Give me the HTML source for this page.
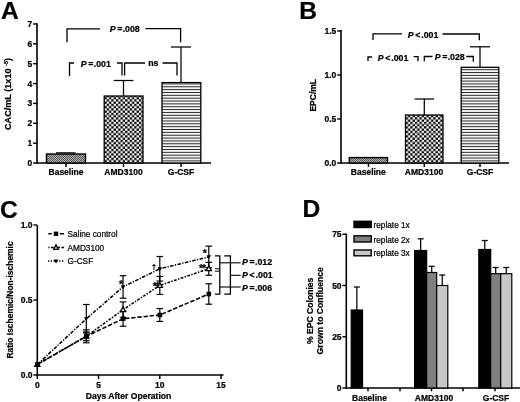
<!DOCTYPE html>
<html><head><meta charset="utf-8"><title>Figure</title>
<style>
html,body{margin:0;padding:0;background:#fff;}
body{width:520px;height:402px;overflow:hidden;font-family:"Liberation Sans",sans-serif;}
svg{display:block;filter:blur(0.3px);}
svg text{font-family:"Liberation Sans",sans-serif;fill:#000;stroke:#000;stroke-width:0.22px;}
</style></head>
<body>
<svg width="520" height="402" viewBox="0 0 520 402">
<defs>
<pattern id="pc" width="4.6" height="4.5" patternUnits="userSpaceOnUse" x="0.9" y="0.3">
<rect width="4.6" height="4.5" fill="#fff"/><rect x="0" y="0" width="2.3" height="2.25" fill="#000"/><rect x="2.3" y="2.25" width="2.3" height="2.25" fill="#000"/>
</pattern>
<pattern id="ph" width="4" height="2.85" patternUnits="userSpaceOnUse" y="0.8">
<rect width="4" height="2.85" fill="#f2f2f2"/><rect x="0" y="0" width="4" height="0.85" fill="#111"/>
</pattern>
<pattern id="pg" width="2" height="2" patternUnits="userSpaceOnUse">
<rect width="2" height="2" fill="#b0b0b0"/><rect width="1" height="1" fill="#555"/><rect x="1" y="1" width="1" height="1" fill="#555"/>
</pattern>
</defs>
<rect width="520" height="402" fill="#fff"/>
<text x="1.0" y="18.8" font-size="24.6" text-anchor="start" font-weight="bold" >A</text>
<line x1="37" y1="23.3" x2="37" y2="163.7" stroke="#000" stroke-width="1.6" />
<line x1="36.2" y1="163" x2="211" y2="163" stroke="#000" stroke-width="1.6" />
<line x1="33.1" y1="163.0" x2="37" y2="163.0" stroke="#000" stroke-width="1.4" />
<text x="32.3" y="166.0" font-size="8.5" text-anchor="end" font-weight="bold" >0</text>
<line x1="33.1" y1="143.14" x2="37" y2="143.14" stroke="#000" stroke-width="1.4" />
<text x="32.3" y="146.14" font-size="8.5" text-anchor="end" font-weight="bold" >1</text>
<line x1="33.1" y1="123.28" x2="37" y2="123.28" stroke="#000" stroke-width="1.4" />
<text x="32.3" y="126.28" font-size="8.5" text-anchor="end" font-weight="bold" >2</text>
<line x1="33.1" y1="103.42" x2="37" y2="103.42" stroke="#000" stroke-width="1.4" />
<text x="32.3" y="106.42" font-size="8.5" text-anchor="end" font-weight="bold" >3</text>
<line x1="33.1" y1="83.56" x2="37" y2="83.56" stroke="#000" stroke-width="1.4" />
<text x="32.3" y="86.56" font-size="8.5" text-anchor="end" font-weight="bold" >4</text>
<line x1="33.1" y1="63.7" x2="37" y2="63.7" stroke="#000" stroke-width="1.4" />
<text x="32.3" y="66.7" font-size="8.5" text-anchor="end" font-weight="bold" >5</text>
<line x1="33.1" y1="43.84" x2="37" y2="43.84" stroke="#000" stroke-width="1.4" />
<text x="32.3" y="46.84" font-size="8.5" text-anchor="end" font-weight="bold" >6</text>
<line x1="33.1" y1="23.980000000000018" x2="37" y2="23.980000000000018" stroke="#000" stroke-width="1.4" />
<text x="32.3" y="26.980000000000018" font-size="8.5" text-anchor="end" font-weight="bold" >7</text>
<line x1="66" y1="163" x2="66" y2="167" stroke="#000" stroke-width="1.5" />
<line x1="123.5" y1="163" x2="123.5" y2="167" stroke="#000" stroke-width="1.5" />
<line x1="181" y1="163" x2="181" y2="167" stroke="#000" stroke-width="1.5" />
<rect x="46.5" y="154" width="39.0" height="9" fill="url(#pg)" stroke="#000" stroke-width="1.4"/>
<rect x="104.2" y="96" width="38.8" height="67" fill="url(#pc)" stroke="#000" stroke-width="1.3"/>
<rect x="162" y="82.6" width="38.80000000000001" height="80.4" fill="url(#ph)" stroke="#000" stroke-width="1.3"/>
<line x1="56" y1="152.9" x2="75.5" y2="152.9" stroke="#000" stroke-width="1.3" />
<line x1="123.5" y1="96" x2="123.5" y2="80.5" stroke="#000" stroke-width="1.25" />
<line x1="113.7" y1="80.5" x2="133.3" y2="80.5" stroke="#000" stroke-width="1.25" />
<line x1="181" y1="82.6" x2="181" y2="47" stroke="#000" stroke-width="1.25" />
<line x1="171" y1="47" x2="191" y2="47" stroke="#000" stroke-width="1.25" />
<polyline points="67,42.3 67,28.8 100,28.8" fill="none" stroke="#000" stroke-width="1.3" />
<text x="124.7" y="32.4" font-size="8.8" text-anchor="middle" font-weight="bold"><tspan font-style="italic">P</tspan><tspan dx="1.7">=</tspan><tspan dx="0.3">.008</tspan></text>
<polyline points="145.5,28.7 180.6,28.7 180.6,42.3" fill="none" stroke="#000" stroke-width="1.3" />
<polyline points="69.5,76 69.5,63 74,63" fill="none" stroke="#000" stroke-width="1.3" />
<text x="95.8" y="66.7" font-size="8.8" text-anchor="middle" font-weight="bold"><tspan font-style="italic">P</tspan><tspan dx="1.7">=</tspan><tspan dx="0.3">.001</tspan></text>
<polyline points="117,63 122,63 122,75.5" fill="none" stroke="#000" stroke-width="1.3" />
<polyline points="124.6,75.5 124.6,63 145,63" fill="none" stroke="#000" stroke-width="1.3" />
<text x="153.3" y="66" font-size="8.8" text-anchor="middle" font-weight="bold" >ns</text>
<polyline points="162.5,63 177,63 177,75.5" fill="none" stroke="#000" stroke-width="1.3" />
<text x="66" y="175" font-size="8.5" text-anchor="middle" font-weight="bold" >Baseline</text>
<text x="123.5" y="175" font-size="8.5" text-anchor="middle" font-weight="bold" >AMD3100</text>
<text x="181" y="175" font-size="8.5" text-anchor="middle" font-weight="bold" >G-CSF</text>
<text transform="translate(10.8,94) rotate(-90)" font-size="9.1" font-weight="bold" text-anchor="middle">CAC/mL (1x10 <tspan font-size="5.5" dy="-3">-5</tspan><tspan dy="3">)</tspan></text>
<text x="299.3" y="18.8" font-size="24.6" text-anchor="start" font-weight="bold" >B</text>
<line x1="341" y1="30" x2="341" y2="163.7" stroke="#000" stroke-width="1.6" />
<line x1="340.2" y1="163" x2="509" y2="163" stroke="#000" stroke-width="1.6" />
<line x1="337.1" y1="163" x2="341" y2="163" stroke="#000" stroke-width="1.4" />
<text x="336.3" y="166.0" font-size="8.5" text-anchor="end" font-weight="bold" >0.0</text>
<line x1="337.1" y1="119" x2="341" y2="119" stroke="#000" stroke-width="1.4" />
<text x="336.3" y="122.0" font-size="8.5" text-anchor="end" font-weight="bold" >0.5</text>
<line x1="337.1" y1="75" x2="341" y2="75" stroke="#000" stroke-width="1.4" />
<text x="336.3" y="78.0" font-size="8.5" text-anchor="end" font-weight="bold" >1.0</text>
<line x1="337.1" y1="31" x2="341" y2="31" stroke="#000" stroke-width="1.4" />
<text x="336.3" y="34.0" font-size="8.5" text-anchor="end" font-weight="bold" >1.5</text>
<line x1="368.5" y1="163" x2="368.5" y2="167" stroke="#000" stroke-width="1.5" />
<line x1="424.3" y1="163" x2="424.3" y2="167" stroke="#000" stroke-width="1.5" />
<line x1="480" y1="163" x2="480" y2="167" stroke="#000" stroke-width="1.5" />
<rect x="349.3" y="157.6" width="38.19999999999999" height="5.400000000000006" fill="url(#pg)" stroke="#000" stroke-width="1.4"/>
<rect x="405.5" y="115" width="37.5" height="48" fill="url(#pc)" stroke="#000" stroke-width="1.3"/>
<rect x="461.2" y="67.3" width="37.60000000000002" height="95.7" fill="url(#ph)" stroke="#000" stroke-width="1.3"/>
<line x1="424.3" y1="115" x2="424.3" y2="99" stroke="#000" stroke-width="1.25" />
<line x1="414.6" y1="99" x2="434.0" y2="99" stroke="#000" stroke-width="1.25" />
<line x1="480" y1="67.3" x2="480" y2="46.8" stroke="#000" stroke-width="1.25" />
<line x1="470" y1="46.8" x2="490" y2="46.8" stroke="#000" stroke-width="1.25" />
<polyline points="373,40 373,33.9 402,33.9" fill="none" stroke="#000" stroke-width="1.3" />
<text x="423" y="37.6" font-size="8.8" text-anchor="middle" font-weight="bold"><tspan font-style="italic">P</tspan><tspan dx="1.7">&lt;</tspan><tspan dx="0.9">.001</tspan></text>
<polyline points="442.5,34 479.3,34 479.3,40.3" fill="none" stroke="#000" stroke-width="1.3" />
<polyline points="368,61 368,57 372,57" fill="none" stroke="#000" stroke-width="1.3" />
<text x="393" y="60.5" font-size="8.8" text-anchor="middle" font-weight="bold"><tspan font-style="italic">P</tspan><tspan dx="1.7">&lt;</tspan><tspan dx="0.9">.001</tspan></text>
<polyline points="413.7,56.7 418,56.7 418,61.3" fill="none" stroke="#000" stroke-width="1.3" />
<polyline points="424.3,61.3 424.3,56.5 432.5,56.5" fill="none" stroke="#000" stroke-width="1.3" />
<text x="449.7" y="59.5" font-size="8.8" text-anchor="middle" font-weight="bold"><tspan font-style="italic">P</tspan><tspan dx="1.7">=</tspan><tspan dx="0.3">.028</tspan></text>
<polyline points="466.2,56.5 473.3,56.5 473.3,61.8" fill="none" stroke="#000" stroke-width="1.3" />
<text x="368.3" y="175" font-size="8.5" text-anchor="middle" font-weight="bold" >Baseline</text>
<text x="424" y="175" font-size="8.5" text-anchor="middle" font-weight="bold" >AMD3100</text>
<text x="480" y="175" font-size="8.5" text-anchor="middle" font-weight="bold" >G-CSF</text>
<text transform="translate(316,95.3) rotate(-90)" font-size="8.5" font-weight="bold" text-anchor="middle">EPC/mL</text>
<text x="0.0" y="217.7" font-size="24.6" text-anchor="start" font-weight="bold" >C</text>
<line x1="37.3" y1="225.3" x2="37.3" y2="375.7" stroke="#000" stroke-width="1.6" />
<line x1="36.5" y1="375" x2="223.5" y2="375" stroke="#000" stroke-width="1.6" />
<line x1="33.4" y1="375" x2="37.3" y2="375" stroke="#000" stroke-width="1.4" />
<text x="32.599999999999994" y="378.0" font-size="8.5" text-anchor="end" font-weight="bold" >0.0</text>
<line x1="33.4" y1="300" x2="37.3" y2="300" stroke="#000" stroke-width="1.4" />
<text x="32.599999999999994" y="303.0" font-size="8.5" text-anchor="end" font-weight="bold" >0.5</text>
<line x1="33.4" y1="225" x2="37.3" y2="225" stroke="#000" stroke-width="1.4" />
<text x="32.599999999999994" y="228.0" font-size="8.5" text-anchor="end" font-weight="bold" >1.0</text>
<line x1="37.3" y1="375" x2="37.3" y2="379" stroke="#000" stroke-width="1.5" />
<text x="37.3" y="387.5" font-size="8.5" text-anchor="middle" font-weight="bold" >0</text>
<line x1="98.55" y1="375" x2="98.55" y2="379" stroke="#000" stroke-width="1.5" />
<text x="98.55" y="387.5" font-size="8.5" text-anchor="middle" font-weight="bold" >5</text>
<line x1="159.8" y1="375" x2="159.8" y2="379" stroke="#000" stroke-width="1.5" />
<text x="159.8" y="387.5" font-size="8.5" text-anchor="middle" font-weight="bold" >10</text>
<line x1="221.05" y1="375" x2="221.05" y2="379" stroke="#000" stroke-width="1.5" />
<text x="221.05" y="387.5" font-size="8.5" text-anchor="middle" font-weight="bold" >15</text>
<text x="128.5" y="399" font-size="8.6" text-anchor="middle" font-weight="bold" >Days After Operation</text>
<text transform="translate(12.8,300) rotate(-90)" font-size="8.45" font-weight="bold" text-anchor="middle">Ratio Ischemic/Non-ischemic</text>
<polyline points="37.3,364.5 86.3,336.3 123.0,318.8 159.8,315.0 208.8,294.0" fill="none" stroke="#000" stroke-width="1.55" stroke-dasharray="4.4 1.8"/>
<line x1="86.3" y1="340.65" x2="86.3" y2="331.95" stroke="#000" stroke-width="1.2" />
<line x1="83.0" y1="331.95" x2="89.6" y2="331.95" stroke="#000" stroke-width="1.2" />
<line x1="83.0" y1="340.65" x2="89.6" y2="340.65" stroke="#000" stroke-width="1.2" />
<line x1="123.05" y1="326.25" x2="123.05" y2="311.25" stroke="#000" stroke-width="1.2" />
<line x1="119.75" y1="311.25" x2="126.35" y2="311.25" stroke="#000" stroke-width="1.2" />
<line x1="119.75" y1="326.25" x2="126.35" y2="326.25" stroke="#000" stroke-width="1.2" />
<line x1="159.8" y1="321.45" x2="159.8" y2="308.55" stroke="#000" stroke-width="1.2" />
<line x1="156.5" y1="308.55" x2="163.10000000000002" y2="308.55" stroke="#000" stroke-width="1.2" />
<line x1="156.5" y1="321.45" x2="163.10000000000002" y2="321.45" stroke="#000" stroke-width="1.2" />
<line x1="208.8" y1="304.2" x2="208.8" y2="283.79999999999995" stroke="#000" stroke-width="1.2" />
<line x1="205.5" y1="283.79999999999995" x2="212.10000000000002" y2="283.79999999999995" stroke="#000" stroke-width="1.2" />
<line x1="205.5" y1="304.2" x2="212.10000000000002" y2="304.2" stroke="#000" stroke-width="1.2" />
<polyline points="37.3,364.5 86.3,336.3 123.0,309.8 159.8,285.4 208.8,268.8" fill="none" stroke="#000" stroke-width="1.55" stroke-dasharray="2.8 1.4 1.4 1.4"/>
<line x1="86.3" y1="342.75" x2="86.3" y2="329.85" stroke="#000" stroke-width="1.2" />
<line x1="83.0" y1="329.85" x2="89.6" y2="329.85" stroke="#000" stroke-width="1.2" />
<line x1="83.0" y1="342.75" x2="89.6" y2="342.75" stroke="#000" stroke-width="1.2" />
<line x1="123.05" y1="317.55" x2="123.05" y2="301.95" stroke="#000" stroke-width="1.2" />
<line x1="119.75" y1="301.95" x2="126.35" y2="301.95" stroke="#000" stroke-width="1.2" />
<line x1="119.75" y1="317.55" x2="126.35" y2="317.55" stroke="#000" stroke-width="1.2" />
<line x1="159.8" y1="294.45000000000005" x2="159.8" y2="276.45" stroke="#000" stroke-width="1.2" />
<line x1="156.5" y1="276.45" x2="163.10000000000002" y2="276.45" stroke="#000" stroke-width="1.2" />
<line x1="156.5" y1="294.45000000000005" x2="163.10000000000002" y2="294.45000000000005" stroke="#000" stroke-width="1.2" />
<line x1="208.8" y1="275.25" x2="208.8" y2="262.35" stroke="#000" stroke-width="1.2" />
<line x1="205.5" y1="262.35" x2="212.10000000000002" y2="262.35" stroke="#000" stroke-width="1.2" />
<line x1="205.5" y1="275.25" x2="212.10000000000002" y2="275.25" stroke="#000" stroke-width="1.2" />
<polyline points="37.3,364.5 86.3,318.8 123.0,286.9 159.8,268.8 208.8,256.9" fill="none" stroke="#000" stroke-width="1.55" stroke-dasharray="3.6 1.4 1.2 1.4"/>
<line x1="86.3" y1="333.0" x2="86.3" y2="304.5" stroke="#000" stroke-width="1.2" />
<line x1="83.0" y1="304.5" x2="89.6" y2="304.5" stroke="#000" stroke-width="1.2" />
<line x1="83.0" y1="333.0" x2="89.6" y2="333.0" stroke="#000" stroke-width="1.2" />
<line x1="123.05" y1="298.2" x2="123.05" y2="275.70000000000005" stroke="#000" stroke-width="1.2" />
<line x1="119.75" y1="275.70000000000005" x2="126.35" y2="275.70000000000005" stroke="#000" stroke-width="1.2" />
<line x1="119.75" y1="298.2" x2="126.35" y2="298.2" stroke="#000" stroke-width="1.2" />
<line x1="159.8" y1="281.1" x2="159.8" y2="256.5" stroke="#000" stroke-width="1.2" />
<line x1="156.5" y1="256.5" x2="163.10000000000002" y2="256.5" stroke="#000" stroke-width="1.2" />
<line x1="156.5" y1="281.1" x2="163.10000000000002" y2="281.1" stroke="#000" stroke-width="1.2" />
<line x1="208.8" y1="267.75" x2="208.8" y2="246.15" stroke="#000" stroke-width="1.2" />
<line x1="205.5" y1="246.15" x2="212.10000000000002" y2="246.15" stroke="#000" stroke-width="1.2" />
<line x1="205.5" y1="267.75" x2="212.10000000000002" y2="267.75" stroke="#000" stroke-width="1.2" />
<polygon points="37.3,361.6 34.7,366.4 39.9,366.4" fill="#fff" stroke="#000" stroke-width="1.3"/>
<polygon points="86.3,333.4 83.7,338.2 88.9,338.2" fill="#fff" stroke="#000" stroke-width="1.3"/>
<polygon points="123.0,306.9 120.5,311.6 125.6,311.6" fill="#fff" stroke="#000" stroke-width="1.3"/>
<polygon points="159.8,282.6 157.2,287.3 162.4,287.3" fill="#fff" stroke="#000" stroke-width="1.3"/>
<polygon points="208.8,265.9 206.2,270.7 211.4,270.7" fill="#fff" stroke="#000" stroke-width="1.3"/>
<rect x="35.0" y="362.2" width="4.6" height="4.6" fill="#000"/>
<rect x="84.0" y="334.0" width="4.6" height="4.6" fill="#000"/>
<rect x="120.8" y="316.4" width="4.6" height="4.6" fill="#000"/>
<rect x="157.5" y="312.7" width="4.6" height="4.6" fill="#000"/>
<rect x="206.5" y="291.7" width="4.6" height="4.6" fill="#000"/>
<polygon points="37.3,366.9 35.0,362.9 39.6,362.9" fill="#000"/>
<polygon points="86.3,321.1 84.0,317.1 88.6,317.1" fill="#000"/>
<polygon points="123.0,289.3 120.8,285.3 125.3,285.3" fill="#000"/>
<polygon points="159.8,271.2 157.5,267.2 162.1,267.2" fill="#000"/>
<polygon points="208.8,259.3 206.5,255.3 211.1,255.3" fill="#000"/>
<polygon points="37.3,361.1 34.3,366.9 40.3,366.9" fill="#000"/>
<text x="121" y="288" font-size="10.5" text-anchor="middle" font-weight="bold" >*</text>
<text x="154" y="268.8" font-size="8" text-anchor="middle" font-weight="bold" >†</text>
<text x="155.8" y="289.5" font-size="10.5" text-anchor="middle" font-weight="bold" letter-spacing="-1">**</text>
<text x="204.7" y="256.5" font-size="10.5" text-anchor="middle" font-weight="bold" >*</text>
<text x="202" y="271.5" font-size="10.5" text-anchor="middle" font-weight="bold" letter-spacing="-1">**</text>
<line x1="48.3" y1="233.8" x2="64" y2="233.8" stroke="#000" stroke-width="1.5" stroke-dasharray="3.4 8.2 4.1 10"/>
<rect x="53.8" y="231.6" width="4.4" height="4.4" fill="#000"/>
<text x="67.5" y="237" font-size="8.25" text-anchor="start" font-weight="normal" >Saline control</text>
<line x1="48.3" y1="247.5" x2="64" y2="247.5" stroke="#000" stroke-width="1.4" stroke-dasharray="1.2 1.4 2.8 1.4 5 1.4 10"/>
<polygon points="56,244.9 53.7,249.4 58.3,249.4" fill="#fff" stroke="#000" stroke-width="1.3"/>
<text x="67.5" y="250.7" font-size="8.25" text-anchor="start" font-weight="normal" >AMD3100</text>
<line x1="48" y1="261" x2="64" y2="261" stroke="#000" stroke-width="1.5" stroke-dasharray="1.3 1.5"/>
<polygon points="56,263.4 53.7,259.4 58.3,259.4" fill="#000"/>
<text x="67.5" y="264.2" font-size="8.25" text-anchor="start" font-weight="normal" >G-CSF</text>
<polyline points="215,255.8 219.8,255.8 219.8,294.2 215,294.2" fill="none" stroke="#000" stroke-width="1.3" />
<line x1="215" y1="268.8" x2="219.8" y2="268.8" stroke="#000" stroke-width="1.0" />
<line x1="215" y1="271.2" x2="219.8" y2="271.2" stroke="#000" stroke-width="1.0" />
<polyline points="224.2,255.8 230.4,255.8 230.4,294.2 224.2,294.2" fill="none" stroke="#000" stroke-width="1.3" />
<line x1="219.8" y1="262.8" x2="240.7" y2="262.8" stroke="#000" stroke-width="1.1" />
<line x1="219.8" y1="287" x2="240.7" y2="287" stroke="#000" stroke-width="1.1" />
<line x1="230.4" y1="275.3" x2="240.7" y2="275.3" stroke="#000" stroke-width="1.1" />
<text x="242" y="264.6" font-size="8.8" text-anchor="start" font-weight="bold"><tspan font-style="italic">P</tspan><tspan dx="1.7">=</tspan><tspan dx="0.3">.012</tspan></text>
<text x="242" y="277.8" font-size="8.8" text-anchor="start" font-weight="bold"><tspan font-style="italic">P</tspan><tspan dx="1.7">&lt;</tspan><tspan dx="0.9">.001</tspan></text>
<text x="242" y="291" font-size="8.8" text-anchor="start" font-weight="bold"><tspan font-style="italic">P</tspan><tspan dx="1.7">=</tspan><tspan dx="0.3">.006</tspan></text>
<text x="302.5" y="217.0" font-size="24.6" text-anchor="start" font-weight="bold" >D</text>
<line x1="346.3" y1="233.5" x2="346.3" y2="388.7" stroke="#000" stroke-width="1.6" />
<line x1="345.5" y1="388" x2="520" y2="388" stroke="#000" stroke-width="1.6" />
<line x1="342.40000000000003" y1="388.0" x2="346.3" y2="388.0" stroke="#000" stroke-width="1.4" />
<text x="341.6" y="391.0" font-size="8.5" text-anchor="end" font-weight="bold" >0</text>
<line x1="342.40000000000003" y1="336.75" x2="346.3" y2="336.75" stroke="#000" stroke-width="1.4" />
<text x="341.6" y="339.75" font-size="8.5" text-anchor="end" font-weight="bold" >25</text>
<line x1="342.40000000000003" y1="285.5" x2="346.3" y2="285.5" stroke="#000" stroke-width="1.4" />
<text x="341.6" y="288.5" font-size="8.5" text-anchor="end" font-weight="bold" >50</text>
<line x1="342.40000000000003" y1="234.25" x2="346.3" y2="234.25" stroke="#000" stroke-width="1.4" />
<text x="341.6" y="237.25" font-size="8.5" text-anchor="end" font-weight="bold" >75</text>
<line x1="368" y1="388" x2="368" y2="391.3" stroke="#000" stroke-width="1.5" />
<line x1="400" y1="388" x2="400" y2="391.3" stroke="#000" stroke-width="1.5" />
<line x1="431.5" y1="388" x2="431.5" y2="391.3" stroke="#000" stroke-width="1.5" />
<line x1="463" y1="388" x2="463" y2="391.3" stroke="#000" stroke-width="1.5" />
<line x1="495" y1="388" x2="495" y2="391.3" stroke="#000" stroke-width="1.5" />
<rect x="351.2" y="310" width="11.300000000000011" height="78" fill="#000" stroke="#000" stroke-width="1.2"/>
<line x1="356.85" y1="310" x2="356.85" y2="287" stroke="#000" stroke-width="1.25" />
<line x1="353.85" y1="287" x2="359.85" y2="287" stroke="#000" stroke-width="1.25" />
<rect x="414.6" y="250.5" width="12.099999999999966" height="137.5" fill="#000" stroke="#000" stroke-width="1.2"/>
<line x1="420.65" y1="250.5" x2="420.65" y2="238.8" stroke="#000" stroke-width="1.25" />
<line x1="417.65" y1="238.8" x2="423.65" y2="238.8" stroke="#000" stroke-width="1.25" />
<rect x="426.7" y="272.5" width="10.0" height="115.5" fill="#808080" stroke="#000" stroke-width="1.2"/>
<line x1="431.7" y1="272.5" x2="431.7" y2="266.3" stroke="#000" stroke-width="1.25" />
<line x1="428.7" y1="266.3" x2="434.7" y2="266.3" stroke="#000" stroke-width="1.25" />
<rect x="436.7" y="285.5" width="11.100000000000023" height="102.5" fill="#c8c8c8" stroke="#000" stroke-width="1.2"/>
<line x1="442.25" y1="285.5" x2="442.25" y2="275" stroke="#000" stroke-width="1.25" />
<line x1="439.25" y1="275" x2="445.25" y2="275" stroke="#000" stroke-width="1.25" />
<rect x="478.8" y="249.5" width="11.899999999999977" height="138.5" fill="#000" stroke="#000" stroke-width="1.2"/>
<line x1="484.75" y1="249.5" x2="484.75" y2="240.5" stroke="#000" stroke-width="1.25" />
<line x1="481.75" y1="240.5" x2="487.75" y2="240.5" stroke="#000" stroke-width="1.25" />
<rect x="490.7" y="273.7" width="10.0" height="114.30000000000001" fill="#808080" stroke="#000" stroke-width="1.2"/>
<line x1="495.7" y1="273.7" x2="495.7" y2="267.5" stroke="#000" stroke-width="1.25" />
<line x1="492.7" y1="267.5" x2="498.7" y2="267.5" stroke="#000" stroke-width="1.25" />
<rect x="500.7" y="273.7" width="11.100000000000023" height="114.30000000000001" fill="#c8c8c8" stroke="#000" stroke-width="1.2"/>
<line x1="506.25" y1="273.7" x2="506.25" y2="267.5" stroke="#000" stroke-width="1.25" />
<line x1="503.25" y1="267.5" x2="509.25" y2="267.5" stroke="#000" stroke-width="1.25" />
<rect x="354" y="221.3" width="17.19999999999999" height="6.199999999999989" fill="#000" stroke="#000" stroke-width="1.4"/>
<rect x="354" y="235.8" width="17.19999999999999" height="6.199999999999989" fill="#808080" stroke="#000" stroke-width="1.4"/>
<rect x="354" y="250" width="17.19999999999999" height="5.800000000000011" fill="#c8c8c8" stroke="#000" stroke-width="1.4"/>
<text x="373.5" y="228.2" font-size="8.25" text-anchor="start" font-weight="normal" >replate 1x</text>
<text x="373.5" y="242.6" font-size="8.25" text-anchor="start" font-weight="normal" >replate 2x</text>
<text x="373.5" y="256.3" font-size="8.25" text-anchor="start" font-weight="normal" >replate 3x</text>
<text x="369.5" y="400.5" font-size="8.5" text-anchor="middle" font-weight="bold" >Baseline</text>
<text x="434" y="400.5" font-size="8.5" text-anchor="middle" font-weight="bold" >AMD3100</text>
<text x="496" y="400.5" font-size="8.5" text-anchor="middle" font-weight="bold" >G-CSF</text>
<text transform="translate(312.5,310.8) rotate(-90)" font-size="8.6" font-weight="bold" text-anchor="middle">% EPC Colonies</text>
<text transform="translate(322.5,310.8) rotate(-90)" font-size="8.65" font-weight="bold" text-anchor="middle">Grown to Confluence</text>
</svg>
</body></html>
